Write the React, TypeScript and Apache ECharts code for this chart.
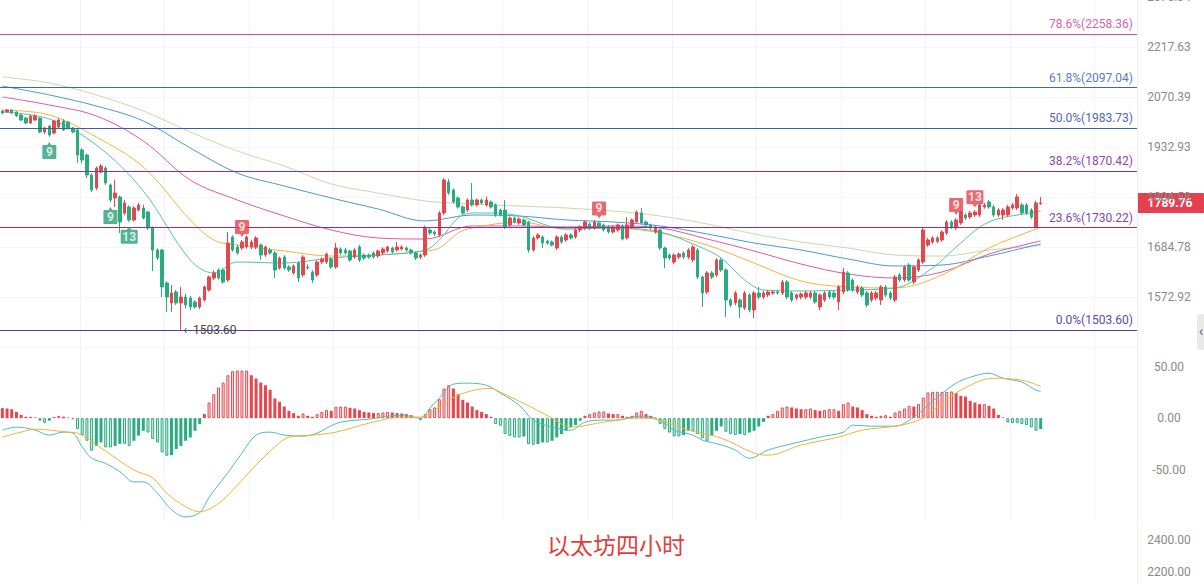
import React, { useEffect, useRef } from 'react';
import * as echarts from 'echarts';

// ---------- axis tick labels (log-spaced price axis) ----------
const yTickLabels = ['1572.92', '1684.78', '1804.58', '1932.93', '2070.39', '2217.63', '2375.34'];
const BASE = 1572.92;
const STEP = Math.log(2217.63 / 1572.92) / 5;
const toT = (p: number) => Math.log(p / BASE) / STEP;

// ---------- candles [open, close, low, high] ----------
const candles: number[][] = [
  [2030.9, 2025.4, 2022, 2034], [2028.2, 2033.7, 2026, 2036], [2033.7, 2025.4, 2023, 2036], [2028.2, 2017.1, 2015, 2030],
  [2019.9, 2006.0, 2003, 2022], [2011.5, 1997.8, 1995, 2014], [1997.8, 2017.1, 1995, 2020], [2006.0, 2017.1, 2003, 2022],
  [2011.5, 1973.2, 1970, 2014], [1973.2, 1984.1, 1968, 1987], [1989.6, 1965.1, 1960, 1992], [1970.5, 2003.3, 1967, 2006],
  [1986.8, 2006.0, 1984, 2010], [2003.3, 1978.6, 1976, 2008], [2000.5, 1984.1, 1980, 2003], [1984.1, 1973.2, 1970, 1987],
  [1978.6, 1911.8, 1890.9, 1984.1], [1925.0, 1898.7, 1890, 1930], [1911.8, 1860.0, 1852.3, 1915], [1860.0, 1822.0, 1817, 1864],
  [1827.0, 1878.0, 1822, 1882], [1867.7, 1883.1, 1864, 1888.3], [1878.0, 1839.6, 1835, 1882], [1834.6, 1797.2, 1792, 1838],
  [1802.2, 1814.6, 1780, 1847.2], [1804.6, 1743.7, 1717.6, 1808], [1765, 1790, 1760, 1797], [1780, 1748.5, 1744, 1784],
  [1748.5, 1777.5, 1745, 1782], [1772.6, 1785, 1769, 1790], [1777.5, 1753.3, 1750, 1786], [1767.8, 1729.4, 1725, 1771],
  [1729.4, 1677.8, 1630, 1733], [1677.8, 1659.5, 1655, 1682], [1677.8, 1594.7, 1572.9, 1680], [1603.5, 1572.9, 1540.9, 1607],
  [1560.1, 1581.6, 1540.9, 1599.1], [1583.8, 1560.1, 1556, 1588], [1560.1, 1572.9, 1503.6, 1594.7], [1572.9, 1555.8, 1548, 1580],
  [1570.8, 1551.5, 1545, 1575], [1562.2, 1551.5, 1548, 1566], [1551.5, 1570.8, 1547, 1574], [1566.5, 1594.7, 1563, 1598],
  [1588.1, 1616.8, 1585, 1620], [1614.5, 1625.7, 1610, 1632], [1632.4, 1614.5, 1611, 1636], [1632.4, 1605.7, 1602, 1636],
  [1610.1, 1694.1, 1606, 1719.8], [1708.1, 1677.8, 1674, 1712], [1684.8, 1671.0, 1667, 1690], [1682.5, 1696.4, 1678, 1701],
  [1684.8, 1708.1, 1681, 1712], [1684.8, 1696.4, 1680, 1702], [1684.8, 1705.8, 1680, 1710], [1689.4, 1666.3, 1655, 1693],
  [1666.3, 1684.8, 1662, 1688], [1677.8, 1671.0, 1667, 1682], [1671.0, 1632.4, 1614.5, 1675], [1636.9, 1659.5, 1633, 1663],
  [1661.7, 1636.9, 1633, 1666], [1639.1, 1632.4, 1628, 1643], [1625.7, 1641.4, 1622, 1645], [1648.1, 1614.5, 1605.7, 1652],
  [1621.3, 1661.7, 1617, 1666], [1639.1, 1636.9, 1633, 1645], [1627.9, 1610.1, 1603.5, 1632], [1621.3, 1650.4, 1617, 1654],
  [1650.4, 1657.2, 1646, 1661], [1650.4, 1668.6, 1646, 1672], [1657.2, 1639.1, 1635, 1661], [1639.1, 1682.5, 1635, 1694.1],
  [1680.1, 1671.0, 1667, 1684], [1677.8, 1671.0, 1667, 1683], [1675.5, 1654.9, 1651, 1679], [1661.7, 1677.8, 1658, 1682],
  [1684.8, 1654.9, 1650, 1689.4], [1666.3, 1659.5, 1655, 1670], [1666.3, 1661.7, 1658, 1670], [1671.0, 1661.7, 1658, 1675],
  [1664.0, 1675.5, 1660, 1679], [1671.0, 1680.1, 1667, 1684], [1675.5, 1684.8, 1672, 1688], [1682.5, 1673.2, 1670, 1686],
  [1677.8, 1684.8, 1674, 1696.4], [1680.1, 1684.8, 1677, 1689], [1682.5, 1677.8, 1674, 1686], [1677.8, 1671.0, 1667, 1681],
  [1671.0, 1659.5, 1655, 1674], [1661.7, 1666.3, 1657, 1670], [1666.3, 1729.4, 1662, 1735], [1724.6, 1717.6, 1713, 1730],
  [1719.8, 1715.3, 1711, 1724], [1712.9, 1765.4, 1709, 1770], [1765.4, 1847.2, 1760, 1852], [1842.2, 1814.6, 1810, 1850],
  [1822.0, 1792.3, 1788, 1826], [1802.2, 1780.0, 1776, 1806], [1780.0, 1765.4, 1761, 1784], [1772.6, 1797.2, 1768, 1801],
  [1797.2, 1785.0, 1781, 1839.6], [1785.0, 1797.2, 1781, 1801], [1797.2, 1789.8, 1786, 1801], [1785.0, 1797.2, 1781, 1806],
  [1792.3, 1780.0, 1776, 1796], [1785.0, 1760.5, 1756, 1789], [1772.6, 1760.5, 1757, 1776], [1772.6, 1731.8, 1727, 1797.2],
  [1736.6, 1753.3, 1732, 1757], [1753.3, 1743.7, 1740, 1757], [1741.3, 1750.9, 1737, 1755], [1748.5, 1736.6, 1733, 1752],
  [1743.7, 1677.8, 1672, 1747], [1677.8, 1705.8, 1674, 1710], [1705.8, 1712.9, 1702, 1717], [1708.1, 1694.1, 1682.5, 1712],
  [1698.7, 1694.1, 1690, 1702], [1696.4, 1689.4, 1686, 1700], [1682.5, 1708.1, 1678, 1712], [1708.1, 1696.4, 1692, 1712],
  [1701.1, 1712.9, 1697, 1717], [1712.9, 1705.8, 1702, 1717], [1708.1, 1724.6, 1704, 1729], [1724.6, 1731.8, 1720, 1736],
  [1729.4, 1743.7, 1724.6, 1748], [1739.0, 1729.4, 1725, 1743], [1729.4, 1743.7, 1725, 1748], [1741.3, 1731.8, 1728, 1745],
  [1736.6, 1724.6, 1721, 1740], [1731.8, 1719.8, 1716, 1736], [1719.8, 1731.8, 1716, 1736], [1724.6, 1736.6, 1721, 1740],
  [1734.2, 1703.4, 1700, 1738], [1705.8, 1736.6, 1702, 1755.7], [1731.8, 1748.5, 1728, 1752], [1743.7, 1767.8, 1740, 1772],
  [1765.4, 1741.3, 1737, 1777.5], [1743.7, 1736.6, 1732, 1747], [1736.6, 1729.4, 1725, 1740], [1719.8, 1731.8, 1716, 1736],
  [1724.6, 1682.5, 1678, 1728], [1682.5, 1659.5, 1636.9, 1686], [1666.3, 1659.5, 1655, 1670], [1650.4, 1666.3, 1646, 1670],
  [1661.7, 1668.6, 1657, 1672], [1671.0, 1661.7, 1657, 1675], [1661.7, 1677.8, 1657, 1682], [1654.9, 1684.8, 1650, 1689.4],
  [1677.8, 1616.8, 1612, 1682], [1616.8, 1581.6, 1551.5, 1620], [1583.8, 1625.7, 1579, 1630], [1625.7, 1616.8, 1612, 1630],
  [1621.3, 1654.9, 1617, 1659], [1654.9, 1632.4, 1628, 1659], [1632.4, 1566.5, 1530.3, 1636], [1566.5, 1555.8, 1551, 1570],
  [1560.1, 1581.6, 1555, 1586], [1566.5, 1551.5, 1528, 1570], [1549.4, 1581.6, 1545, 1586], [1577.3, 1545.1, 1540, 1581],
  [1545.1, 1581.6, 1528, 1586], [1581.6, 1572.9, 1568, 1594.7], [1572.9, 1581.6, 1568, 1586], [1577.3, 1583.8, 1573, 1588],
  [1581.6, 1583.8, 1578, 1588], [1583.8, 1581.6, 1578, 1588], [1581.6, 1605.7, 1577, 1610], [1605.7, 1572.9, 1568, 1610],
  [1581.6, 1566.5, 1562, 1586], [1570.8, 1577.3, 1566, 1581], [1572.9, 1579.4, 1568, 1583], [1572.9, 1581.6, 1568, 1586],
  [1572.9, 1581.6, 1568, 1586], [1581.6, 1562.2, 1558, 1586], [1551.5, 1577.3, 1545, 1581], [1566.5, 1581.6, 1562, 1586],
  [1583.8, 1572.9, 1568, 1588], [1581.6, 1572.9, 1568, 1586], [1562.2, 1594.7, 1545, 1599], [1583.8, 1627.9, 1579, 1636.9],
  [1625.7, 1588.1, 1584, 1630], [1610.1, 1588.1, 1584, 1614], [1583.8, 1594.7, 1579, 1599], [1592.5, 1577.3, 1573, 1597],
  [1581.6, 1555.8, 1551, 1586], [1566.5, 1581.6, 1562, 1586], [1570.8, 1581.6, 1566, 1586], [1566.5, 1594.7, 1555.8, 1599],
  [1594.7, 1577.3, 1573, 1599], [1581.6, 1570.8, 1566, 1586], [1566.5, 1616.8, 1562, 1621], [1621.3, 1610.1, 1606, 1626],
  [1610.1, 1639.1, 1606, 1643], [1643.6, 1610.1, 1606, 1648], [1605.7, 1639.1, 1601, 1643], [1632.4, 1654.9, 1628, 1659],
  [1650.4, 1724.6, 1646, 1731.8], [1689.4, 1701.1, 1685, 1706], [1696.4, 1705.8, 1692, 1710], [1698.0, 1705.8, 1694, 1710],
  [1701.1, 1719.8, 1697, 1724], [1717.6, 1743.7, 1713, 1748], [1743.7, 1731.8, 1727, 1748], [1729.4, 1748.5, 1725, 1753],
  [1741.3, 1767.8, 1737, 1772], [1760.5, 1753.3, 1749, 1765], [1755.7, 1765.4, 1751, 1770], [1760.5, 1767.8, 1756, 1772],
  [1760.5, 1785.0, 1756, 1790], [1780.0, 1785.0, 1776, 1790], [1792.3, 1780.0, 1776, 1797], [1780.0, 1760.5, 1756, 1785],
  [1760.5, 1772.6, 1756, 1777], [1760.5, 1772.6, 1748.5, 1777], [1760.5, 1780.0, 1756, 1785], [1777.5, 1785.0, 1773, 1790],
  [1777.5, 1804.6, 1773, 1812], [1785.0, 1765.4, 1761, 1790], [1785.0, 1765.4, 1761, 1790], [1772.6, 1755.7, 1751, 1777],
  [1731.8, 1789.8, 1729.4, 1795], [1788.0, 1789.76, 1785, 1804.6],
];
const TOTAL_SLOTS = 242;

// ---------- moving averages (read at sample candles) ----------
const slowIdx = [0, 10, 20, 30, 40, 50, 60, 70, 80, 90, 100, 110, 120, 130, 140, 150, 160, 170, 180, 190, 200, 210, 220, 221];
const maBeige = [2128.2, 2110.7, 2076.2, 2030.9, 1973.2, 1922.4, 1883.1, 1837.1, 1814.6, 1794.7, 1787.4, 1782.4, 1777.5, 1770.2, 1758.1, 1739.0, 1715.3, 1696.4, 1682.5, 1666.3, 1664.0, 1677.8, 1687.1, 1688.5];
const maBlue = [2101.8, 2076.2, 2045.0, 2003.3, 1930.3, 1865.1, 1832.1, 1802.2, 1775.0, 1746.1, 1760.5, 1758.1, 1748.5, 1743.7, 1734.2, 1715.3, 1694.1, 1677.8, 1657.2, 1641.4, 1643.6, 1664.0, 1689.4, 1691.5];
const maPink = [2070.4, 2047.8, 2017.1, 1948.9, 1847.2, 1797.2, 1758.1, 1724.6, 1705.8, 1703.4, 1734.2, 1734.2, 1731.8, 1734.2, 1729.4, 1703.4, 1675.5, 1645.8, 1623.5, 1614.5, 1627.9, 1668.6, 1696.4, 1698.7];
const orangeIdx = [0, 10, 20, 30, 40, 45, 50, 60, 70, 80, 90, 93, 97, 100, 110, 120, 130, 140, 150, 160, 170, 180, 190, 200, 210, 220, 221];
const maOrange = [2033.7, 2019.9, 1959.7, 1880.4, 1748.5, 1701.1, 1689.4, 1675.5, 1664.0, 1666.3, 1675.5, 1682.5, 1717.6, 1729.4, 1743.7, 1727.0, 1729.4, 1717.6, 1689.4, 1648.1, 1607.9, 1594.7, 1592.5, 1621.3, 1682.5, 1727.0, 1730.5];
const tealIdx = [0, 10, 20, 30, 40, 45, 50, 60, 70, 80, 90, 93, 97, 100, 105, 110, 120, 130, 140, 148, 153, 158, 162, 170, 180, 190, 198, 203, 210, 220, 221];
const maTeal = [2028.2, 2008.8, 1938.3, 1819.5, 1654.9, 1625.7, 1650.4, 1648.1, 1659.5, 1666.3, 1677.8, 1701.1, 1753.3, 1765.4, 1765.4, 1758.1, 1727.0, 1729.4, 1719.8, 1687.1, 1659.5, 1610.1, 1588.1, 1586.0, 1588.1, 1592.5, 1636.9, 1684.8, 1743.7, 1767.8, 1770.2];

// ---------- Fibonacci levels ----------
const fibPct = ['78.6%', '61.8%', '50.0%', '38.2%', '23.6%', '0.0%'];
const fibPrice = [2258.36, 2097.04, 1983.73, 1870.42, 1730.22, 1503.6];
const fibLineColor = ['#c454ae', '#40699f', '#3d5ea6', '#8c2fa4', '#8a30a6', '#5a3c9e'];
const fibTextColor = ['#d366a8', '#5b7cc0', '#4e69b8', '#8549b2', '#7f48b0', '#5d49aa'];

// ---------- TD sequential marks ----------
const tdDownIdx = [10, 23, 27];
const tdDownText = ['9', '9', '13'];
const tdUpIdx = [51, 127, 203, 207];
const tdUpText = ['9', '9', '9', '13'];
const lowMarkIdx = 38;
const lastPriceText = '1789.76';

// ---------- MACD ----------
const macdHist = [
  9.7, 9.4, 8.7, 6.1, 3.2, 1.3, 1.3, 0.6, -2.5, -4.5, -2.5, 1, 2.2, 1.3, 0.6, -1, -10.7, -16.5, -22, -31.7, -27,
  -23.6, -28.5, -28.5, -27, -25, -25, -27, -22, -17, -12.3, -14, -20.4, -23.6, -33.3, -36.6, -36, -30, -27, -22, -18.8,
  -12.3, -5.8, 3.9, 15.2, 23.3, 29.8, 34.6, 41.7, 45.6, 46.3, 46.3, 46.3, 41.7, 38.5, 34.6, 32, 27.5, 19.1, 15.9, 11.3,
  7.1, 4.9, 2.3, 4.5, 2.3, 1.3, 3.9, 6.1, 7.8, 7.1, 11, 11.3, 11.3, 10, 9.4, 7.8, 6.1, 5.5, 4.9, 4.9, 5.5, 6.1, 5.5, 4.9, 4.5,
  3.9, 2.9, 0.6, -2, 3.9, 8.7, 10.4, 18.4, 28.8, 32, 28.8, 23.3, 17.8, 15.2, 11.3, 7.8, 6.1, 3.9, 1.3, -5.8,
  -7.4, -15.5, -17.2, -18.8, -18.8, -17.8, -25.2, -25.9, -25.2, -23.6, -23.6, -22, -18.8, -15.5, -12.3, -9, -6.8, -2.6, 2.3, 3.9,
  5.5, 6.5, 6.5, 4.5, 3.9, 3.9, 2.3, 1.3, 2.3, 5.5, 7.1, 3.9, 2.3, 0.6, -5.8, -10.7, -14, -17.8, -17.8, -16.5,
  -12.3, -12.3, -15.5, -19.7, -22, -17.2, -12.3, -8.1, -13.3, -15.5, -16.5, -15.5, -16.5, -14, -12.3, -8.1, -3.6, 2.3, 3.9, 7.1,
  10.4, 11.3, 10.4, 9.4, 8.7,
  8.7, 9.4, 7.8, 7.1, 7.8, 8.7, 8.7, 7.1, 13.6, 15.2, 11.3, 10.4, 7.8, 3.9, 2.3, 1.3, 2.3, 2.9, 1.3, 5.5,
  7.1, 9.4, 12, 11.3, 13.6, 20, 25, 25.6, 25.6, 25.6, 25.6, 25.9, 24.3, 21.7, 21, 16.8, 15.2, 13.6, 13.6, 12,
  9.4, 3.2, 0.6, -4.2, -4.9, -4.9, -5.8, -6.8, -9, -12.3, -10.7,
];
const difIdx = [0, 3, 7, 10, 13, 15, 17, 19, 22, 25, 28, 30, 33, 36, 39, 42, 44, 48, 51, 54, 57, 60, 64, 67, 69, 72, 78, 85, 89, 91, 93, 96, 99, 103, 106, 110, 113, 117, 121, 124, 128, 131, 135, 138, 141, 143, 147, 149, 153, 156, 159, 163, 167, 170, 174, 179, 181, 185, 190, 194, 199, 203, 206, 210, 213, 217, 220, 221];
const difVals = [-11.7, -8.7, -11.7, -16.5, -13.6, -14.6, -28, -39, -44, -52, -62, -62, -73, -89, -96, -92, -77, -53, -34, -16.5, -13.6, -16.5, -17.5, -14.6, -9.7, -3.9, -1, 3, 0, 9.7, 19.4, 33, 34, 32, 24.3, 12.6, -1.9, -8.7, -11.7, -3.9, -1.9, -1.9, 1.9, 1, -4.9, -11.7, -16.5, -21.4, -26, -31, -39, -31, -26, -22.8, -18.4, -13.6, -6.8, -7.8, -7.8, 1, 20.4, 34, 39.8, 43.7, 38.8, 35, 27.2, 26.2];
const deaIdx = [0, 4, 7, 14, 16, 21, 28, 32, 35, 39, 42, 46, 49, 54, 58, 61, 66, 71, 78, 85, 89, 92, 97, 104, 106, 113, 117, 121, 128, 135, 139, 146, 153, 160, 163, 170, 178, 183, 190, 195, 199, 204, 211, 217, 221];
const deaVals = [-18.4, -13.6, -10.7, -13.6, -14.6, -29, -50.5, -58, -73, -86, -91, -83, -70, -45.6, -28, -18.4, -16.5, -13.6, -4.9, 1, 1, 7.8, 22.3, 29, 25.2, 9.7, 0, -8.7, -3.9, 0, -1, -11.7, -19.4, -34, -36, -26.2, -18.4, -11.7, -7.8, -1.9, 10.7, 27.2, 38.8, 36.9, 31];

const RED = '#e5474f';
const GREEN = '#2bab80';
const RED_LIGHT = '#fbe1e4';
const GREEN_LIGHT = '#d6f1e7';
const FONT = 'Roboto, "Noto Sans", sans-serif';

const RED_PIN = 'path://M1,0 H13 Q14,0 14,1 V13 Q14,14 13,14 H9 L7,17 L5,14 H1 Q0,14 0,13 V1 Q0,0 1,0 Z';
const GREEN_PIN = 'path://M1,3 H5 L7,0 L9,3 H13 Q14,3 14,4 V16 Q14,17 13,17 H1 Q0,17 0,16 V4 Q0,3 1,3 Z';

function baseGraphics() {
  return [
    {
      type: 'text', id: 'title', left: 547, top: 532, silent: true,
      style: { text: '以太坊四小时', fill: '#e23d3d', fontSize: 23, fontFamily: '"Noto Sans CJK SC", sans-serif' },
    },
    { type: 'rect', id: 'scroll', left: 1197, top: 314, silent: true, shape: { width: 14, height: 36, r: 4 }, style: { fill: '#e9e9e9' } },
    { type: 'text', id: 'scrollArrow', left: 1199, top: 324, silent: true, style: { text: '‹', fill: '#666', fontSize: 14, fontFamily: FONT } },
  ];
}

function buildOption() {
  const cats = Array.from({ length: TOTAL_SLOTS }, (_, i) => String(i));
  const kData = candles.map(([o, c, l, h]) => [toT(o), toT(c), toT(l), toT(h)]);
  const pairs = (idx: number[], vals: number[], f: (v: number) => number) => idx.map((k, i) => [k, f(vals[i])]);
  const maLine = (name: string, idx: number[], vals: number[], color: string) => ({
    name, type: 'line', xAxisIndex: 0, yAxisIndex: 0, data: pairs(idx, vals, toT), smooth: 0.35,
    symbol: 'none', connectNulls: true, lineStyle: { width: 1, color }, itemStyle: { color }, silent: true, z: 3,
  });

  const fibData = fibPrice.map((p, i) => ({
    yAxis: toT(p),
    lineStyle: { color: fibLineColor[i], width: 1, type: 'solid' },
    label: {
      show: true, position: 'insideEndTop', distance: 4, color: fibTextColor[i], fontSize: 12, fontFamily: FONT,
      formatter: `${fibPct[i]}(${p.toFixed(2)})`,
    },
  }));

  const histData = macdHist.map((v, i) => {
    const prev = i > 0 ? macdHist[i - 1] : v + (v >= 0 ? 1 : -1);
    const grow = Math.abs(v) >= Math.abs(prev);
    const c = v >= 0 ? RED : GREEN;
    return {
      value: v,
      itemStyle: grow ? { color: v >= 0 ? RED_LIGHT : GREEN_LIGHT, borderColor: c, borderWidth: 1 } : { color: c },
    };
  });

  const tdDown = tdDownIdx.map((k, i) => ({
    name: tdDownText[i], value: [k, toT(candles[k][2])],
    symbolSize: tdDownText[i].length > 1 ? [17, 17] : [14, 17],
  }));
  const tdUp = tdUpIdx.map((k, i) => ({
    name: tdUpText[i], value: [k, toT(candles[k][3])],
    symbolSize: tdUpText[i].length > 1 ? [17, 17] : [14, 17],
  }));

  const axisLabelBase = { color: '#8a8a8a', fontSize: 12, fontFamily: FONT, align: 'center', margin: 32 };
  const gridBase = { left: 0, right: 67, containLabel: false, outerBoundsMode: 'none' };

  return {
    animation: false,
    backgroundColor: '#ffffff',
    grid: [
      { ...gridBase, top: -3, bottom: 237 },
      { ...gridBase, top: 341, bottom: 63 },
      { ...gridBase, top: 524, bottom: -20 },
    ],
    xAxis: [0, 1, 2].map((g) => ({
      type: 'category', gridIndex: g, data: cats, boundaryGap: true,
      axisLine: { show: false }, axisTick: { show: false }, axisLabel: { show: false },
      splitLine: { show: g < 2, interval: (i: number) => i % 18 === 17, lineStyle: { color: '#f3f3f3', width: 1 } },
    })),
    yAxis: [
      {
        type: 'value', gridIndex: 0, position: 'right', min: -1, max: 6, interval: 1,
        axisLine: { show: true, lineStyle: { color: '#eeeeee' } }, axisTick: { show: false },
        axisLabel: { ...axisLabelBase, formatter: (v: number) => (v < 0 ? '' : yTickLabels[Math.round(v)]) },
        splitLine: { show: true, lineStyle: { color: '#f6f6f6' } },
      },
      {
        type: 'value', gridIndex: 1, position: 'right', min: -100, max: 75, interval: 50,
        axisLine: { show: true, lineStyle: { color: '#eeeeee' } }, axisTick: { show: false },
        axisLabel: { ...axisLabelBase, showMaxLabel: false, showMinLabel: false, formatter: (v: number) => (v < -75 || v > 60 ? '' : v.toFixed(2)) },
        splitLine: { show: false },
      },
      {
        type: 'value', gridIndex: 2, position: 'right', min: 2000, max: 2500, interval: 200,
        axisLine: { show: true, lineStyle: { color: '#eeeeee' } }, axisTick: { show: false },
        axisLabel: { ...axisLabelBase, showMaxLabel: false, showMinLabel: false, formatter: (v: number) => (v > 2450 || v < 2100 ? '' : v.toFixed(2)) },
        splitLine: { show: false },
      },
    ],
    series: [
      maLine('MA-beige', slowIdx, maBeige, '#cad9ad'),
      maLine('MA-blue', slowIdx, maBlue, '#4b9ad0'),
      maLine('MA-pink', slowIdx, maPink, '#dc5d9f'),
      maLine('MA-orange', orangeIdx, maOrange, '#f2b43e'),
      maLine('MA-teal', tealIdx, maTeal, '#55c2b5'),
      {
        name: 'K', type: 'candlestick', xAxisIndex: 0, yAxisIndex: 0, data: kData, barWidth: 3, z: 4,
        itemStyle: { color: RED, color0: GREEN, borderColor: RED, borderColor0: GREEN, borderWidth: 1 },
        markLine: { silent: true, symbol: ['none', 'none'], animation: false, data: fibData },
        markPoint: {
          silent: true, symbol: 'circle', symbolSize: 1, itemStyle: { color: 'rgba(0,0,0,0)' },
          label: { show: true, position: 'right', distance: 2, color: '#444', fontSize: 12, fontFamily: FONT, formatter: '\u2039  {c}' },
          data: [{ coord: [lowMarkIdx, toT(candles[lowMarkIdx][2])], value: candles[lowMarkIdx][2].toFixed(2) }],
        },
      },
      {
        name: 'TD-down', type: 'scatter', xAxisIndex: 0, yAxisIndex: 0, data: tdDown, symbol: GREEN_PIN,
        symbolOffset: [0, 13.5], itemStyle: { color: '#2a9f78' }, z: 6, silent: true,
        label: { show: true, position: 'inside', offset: [0, 1.5], color: '#fff', fontSize: 12, fontWeight: 'bold', fontFamily: FONT, formatter: '{b}' },
      },
      {
        name: 'TD-up', type: 'scatter', xAxisIndex: 0, yAxisIndex: 0, data: tdUp, symbol: RED_PIN,
        symbolOffset: [0, -11.5], itemStyle: { color: '#e2434f' }, z: 6, silent: true,
        label: { show: true, position: 'inside', offset: [0, -1.5], color: '#fff', fontSize: 12, fontWeight: 'bold', fontFamily: FONT, formatter: '{b}' },
      },
      {
        name: 'MACD', type: 'bar', xAxisIndex: 1, yAxisIndex: 1, data: histData, barWidth: 3, silent: true,
      },
      {
        name: 'DIF', type: 'line', xAxisIndex: 1, yAxisIndex: 1, data: pairs(difIdx, difVals, (v) => v), smooth: 0.35,
        symbol: 'none', lineStyle: { width: 1, color: '#4fbdb3' }, silent: true, z: 4,
      },
      {
        name: 'DEA', type: 'line', xAxisIndex: 1, yAxisIndex: 1, data: pairs(deaIdx, deaVals, (v) => v), smooth: 0.35,
        symbol: 'none', lineStyle: { width: 1, color: '#f0b23a' }, silent: true, z: 4,
      },
      { name: 'empty', type: 'line', xAxisIndex: 2, yAxisIndex: 2, data: [] },
    ],
    graphic: baseGraphics(),
  };
}

export default function App() {
  const ref = useRef<HTMLDivElement>(null);
  useEffect(() => {
    if (!ref.current) return;
    const chart = echarts.init(ref.current, undefined, { renderer: 'svg' });
    chart.setOption(buildOption() as any);
    // last-price tag on the right axis, placed through the price axis scale
    const lastClose = candles[candles.length - 1][1];
    const py = chart.convertToPixel({ yAxisIndex: 0 }, toT(lastClose)) as number;
    chart.setOption({
      graphic: [
        ...baseGraphics(),
        {
          type: 'group', id: 'priceTag', x: 1137, y: py - 10, z: 100,
          children: [
            { type: 'rect', shape: { x: 0, y: 0, width: 67, height: 20, r: 1 }, style: { fill: '#e4404f' } },
            {
              type: 'text', x: 33, y: 10,
              style: { text: lastPriceText, fill: '#ffffff', fontSize: 12, fontWeight: 'bold', fontFamily: FONT, align: 'center', verticalAlign: 'middle' },
            },
          ],
        },
      ],
    } as any);
    return () => chart.dispose();
  }, []);
  return <div ref={ref} style={{ position: 'fixed', left: 0, top: 0, width: '1204px', height: '584px', background: '#fff' }} />;
}
